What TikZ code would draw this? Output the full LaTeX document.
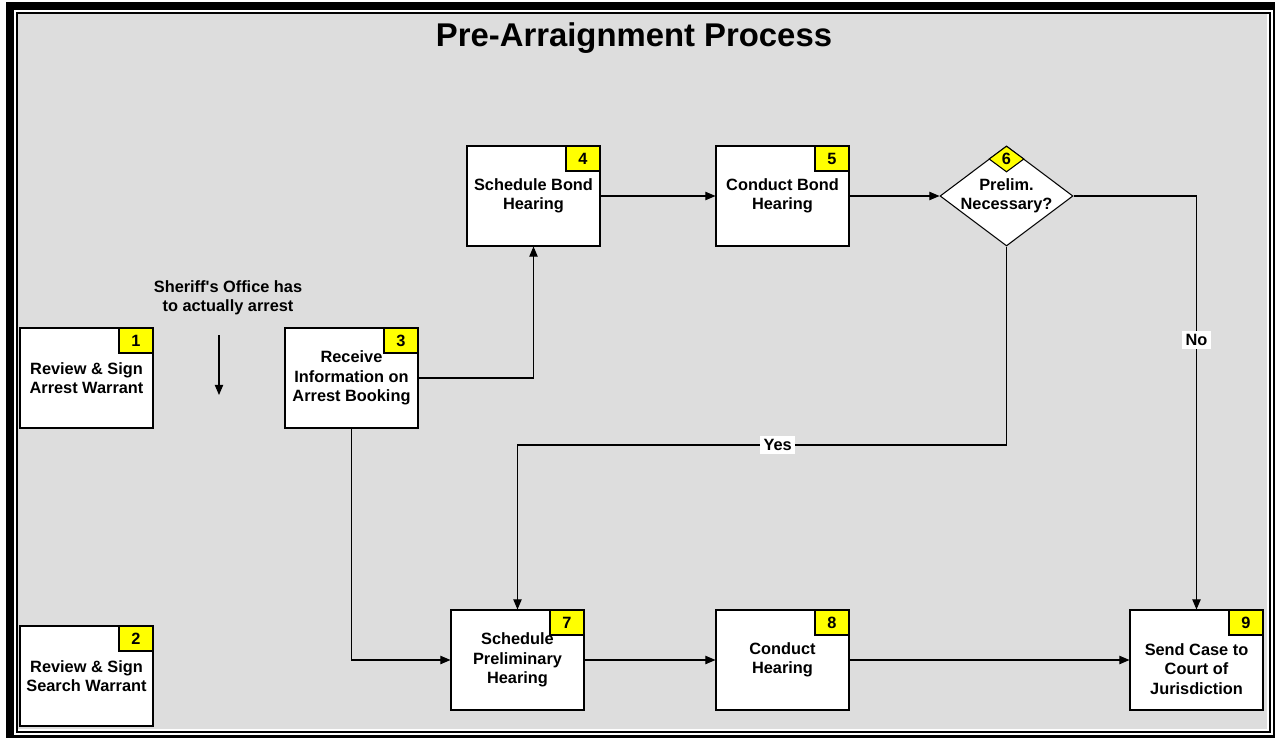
\documentclass[tikz,border=0pt]{standalone}
\usepackage{fontspec}
\setmainfont{Liberation Sans}
\usetikzlibrary{shapes.geometric,arrows.meta}
\definecolor{bggray}{RGB}{221,221,221}
\definecolor{tagyellow}{RGB}{255,255,0}
\newcommand\boxfont{\bfseries\fontsize{9.3}{11.1}\selectfont}

\begin{document}
\begin{tikzpicture}[x=.02cm,y=-.02cm,
  box/.style={draw,fill=white,line width=.6pt,minimum width=2.66cm,minimum height=2cm,align=center,font=\boxfont,inner sep=0pt},
  tag/.style={draw,fill=tagyellow,line width=.6pt,minimum width=.68cm,minimum height=.5cm,inner sep=0pt,font=\boxfont},
  flow/.style={line width=.6pt,-{Triangle[length=5.8pt,width=4.8pt]}},
  cond/.style={fill=white,inner sep=2pt,font=\boxfont}]
\useasboundingbox (0,0) rectangle (1275,738);
\fill[black] (6,2) rectangle (1275,738);
\fill[white] (14,10) rectangle (1273,735);
\fill[black] (16,12) rectangle (1271,733);
\fill[white] (18,14) rectangle (1269,731);
\fill[bggray] (18,14) rectangle (1267,729);
\node[font=\bfseries\fontsize{18.7}{22}\selectfont,anchor=base] (title) at (634,46) {Pre-Arraignment Process};
\node[box] (n1) at (86.5,378) {Review \& Sign\\Arrest Warrant};
\node[tag,anchor=north east] (t1) at (n1.north east) {1};
\node[box] (n2) at (86.5,676) {Review \& Sign\\Search Warrant};
\node[tag,anchor=north east] (t2) at (n2.north east) {2};
\node[align=center,font=\boxfont] (sheriff) at (228,298) {Sheriff{\textquotesingle}s Office has\\to actually arrest};
\coordinate (s1) at (219,335);
\coordinate (s2) at (219,395);
\draw[flow] (s1)--(s2);
\node[box] (n3) at (351.5,378) {Receive\\Information on\\Arrest Booking};
\node[tag,anchor=north east] (t3) at (n3.north east) {3};
\node[box] (n4) at (533.5,196) {Schedule Bond\\Hearing};
\node[tag,anchor=north east] (t4) at (n4.north east) {4};
\node[box] (n5) at (782.5,196) {Conduct Bond\\Hearing};
\node[tag,anchor=north east] (t5) at (n5.north east) {5};
\node[diamond,draw,fill=white,line width=.6pt,aspect=1.34,minimum width=2.66cm,minimum height=2cm,inner sep=-2pt,align=center,font=\boxfont] (n6) at (1006.5,196) {Prelim.\\Necessary?};
\node[diamond,tag,minimum width=.7cm,minimum height=.52cm,anchor=north] (t6) at (n6.north) {6};
\node[box] (n7) at (517.5,660) {Schedule\\Preliminary\\Hearing};
\node[tag,anchor=north east] (t7) at (n7.north east) {7};
\node[box] (n8) at (782.5,660) {Conduct\\Hearing};
\node[tag,anchor=north east] (t8) at (n8.north east) {8};
\node[box] (n9) at (1196.5,660) {};
\node[tag,anchor=north east] (t9) at (n9.north east) {9};
\node[align=center,font=\boxfont] (l9) at (1196.5,669) {Send Case to\\Court of\\Jurisdiction};
\coordinate (yes) at (0,445);
\draw[flow] (n3.east) -| (n4.south);
\draw[flow] (n4)--(n5);
\draw[flow] (n5)--(n6);
\draw[flow] (n6.east) -| node[cond,pos=.674] {No} (n9.north);
\draw[flow] (n6.south)--(n6.south |- yes) -| node[cond,pos=.234] {Yes} (n7.north);
\draw[flow] (n3.south) |- (n7.west);
\draw[flow] (n7)--(n8);
\draw[flow] (n8)--(n9);
\end{tikzpicture}
\end{document}
